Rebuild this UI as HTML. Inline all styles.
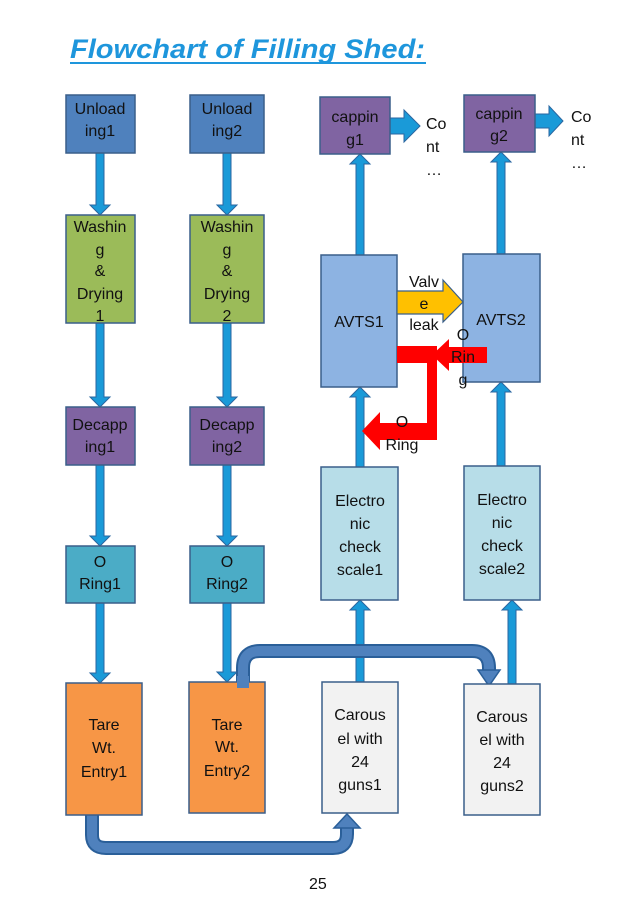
<!DOCTYPE html>
<html><head><meta charset="utf-8"><style>
html,body{margin:0;padding:0;background:#fff;}
svg{display:block;}
text{font-family:"Liberation Sans",sans-serif;font-size:16px;fill:#111;}
</style></head><body>
<svg width="638" height="900" viewBox="0 0 638 900" xmlns="http://www.w3.org/2000/svg">
<text x="70" y="58" style="font-size:27px;font-weight:bold;font-style:italic;fill:#1e96dc" textLength="355" lengthAdjust="spacingAndGlyphs">Flowchart of Filling Shed:</text>
<rect x="70" y="62" width="356" height="2" fill="#1e96dc"/>

<g fill="#1a9ad8" stroke="#2a66a0" stroke-width="1">
<path d="M96,153 H104 V205 H110 L100,215 L90,205 H96 Z"/>
<path d="M223,153 H231 V205 H237 L227,215 L217,205 H223 Z"/>
<path d="M96,323 H104 V397 H110 L100,407 L90,397 H96 Z"/>
<path d="M223,323 H231 V397 H237 L227,407 L217,397 H223 Z"/>
<path d="M96,465 H104 V536 H110 L100,546 L90,536 H96 Z"/>
<path d="M223,465 H231 V536 H237 L227,546 L217,536 H223 Z"/>
<path d="M96,603 H104 V673 H110 L100,683 L90,673 H96 Z"/>
<path d="M223,603 H231 V672 H237 L227,682 L217,672 H223 Z"/>
<path d="M356,255 H364 V164 H370 L360,154 L350,164 H356 Z"/>
<path d="M497,254 H505 V162 H511 L501,152 L491,162 H497 Z"/>
<path d="M356,467 H364 V397 H370 L360,387 L350,397 H356 Z"/>
<path d="M497,466 H505 V392 H511 L501,382 L491,392 H497 Z"/>
<path d="M356,682 H364 V610 H370 L360,600 L350,610 H356 Z"/>
<path d="M508,684 H516 V610 H522 L512,600 L502,610 H508 Z"/>
<path d="M390,118 H404 V110 L420,126 L404,142 V134 H390 Z"/>
<path d="M535,114 H549 V106 L563,121 L549,136 V128 H535 Z"/>
</g>

<g fill="none" stroke="#2a5f99" stroke-width="14" stroke-linejoin="round">
<path d="M243,686 V668 Q243,651 260,651 H472 Q489,651 489,668 V672"/>
<path d="M92,815 V835 Q92,848 106,848 H333 Q347,848 347,834 V826"/>
</g>
<g fill="none" stroke="#4f81bd" stroke-width="10" stroke-linejoin="round">
<path d="M243,686 V668 Q243,651 260,651 H472 Q489,651 489,668 V672"/>
<path d="M92,815 V835 Q92,848 106,848 H333 Q347,848 347,834 V826"/>
</g>
<path d="M478,670 H500 L489,686 Z" fill="#4f81bd" stroke="#2a5f99" stroke-width="1.5"/>
<path d="M334,828 H360 L347,814 Z" fill="#4f81bd" stroke="#2a5f99" stroke-width="1.5"/>

<g stroke="#3a5f8a" stroke-width="1.5">
<rect x="66" y="95" width="69" height="58" fill="#4f81bd"/>
<rect x="190" y="95" width="74" height="58" fill="#4f81bd"/>
<rect x="66" y="215" width="69" height="108" fill="#9bbb59"/>
<rect x="190" y="215" width="74" height="108" fill="#9bbb59"/>
<rect x="66" y="407" width="69" height="58" fill="#8064a2"/>
<rect x="190" y="407" width="74" height="58" fill="#8064a2"/>
<rect x="66" y="546" width="69" height="57" fill="#4bacc6"/>
<rect x="190" y="546" width="74" height="57" fill="#4bacc6"/>
<rect x="66" y="683" width="76" height="132" fill="#f79646"/>
<rect x="189" y="682" width="76" height="131" fill="#f79646"/>
<rect x="322" y="682" width="76" height="131" fill="#f2f2f2"/>
<rect x="464" y="684" width="76" height="131" fill="#f2f2f2"/>
<rect x="320" y="97" width="70" height="57" fill="#8064a2"/>
<rect x="464" y="95" width="71" height="57" fill="#8064a2"/>
<rect x="321" y="255" width="76" height="132" fill="#8db3e2"/>
<rect x="463" y="254" width="77" height="128" fill="#8db3e2"/>
<rect x="321" y="467" width="77" height="133" fill="#b7dde8"/>
<rect x="464" y="466" width="76" height="134" fill="#b7dde8"/>
</g>
<rect x="237" y="676" width="12" height="12" fill="#4f81bd"/>

<path d="M397,291 H443 V280 L463,302 L443,322 V314 H397 Z" fill="#ffc000" stroke="#3a5f8a" stroke-width="1.2"/>
<g fill="#ff0000">
<rect x="397" y="346" width="40" height="17"/>
<path d="M487,347 V363 H449 V371 L432,355 L449,339 V347 Z"/>
<rect x="427" y="346" width="10" height="94"/>
<path d="M437,423 V440 H380 V450 L362,431 L380,412 V423 Z"/>
</g>

<g text-anchor="middle">
<text x="100" y="114">Unload</text><text x="100" y="136">ing1</text>
<text x="227" y="114">Unload</text><text x="227" y="136">ing2</text>
<text x="100" y="232">Washin</text><text x="100" y="255">g</text><text x="100" y="276">&amp;</text><text x="100" y="299">Drying</text><text x="100" y="321">1</text>
<text x="227" y="232">Washin</text><text x="227" y="255">g</text><text x="227" y="276">&amp;</text><text x="227" y="299">Drying</text><text x="227" y="321">2</text>
<text x="100" y="430">Decapp</text><text x="100" y="452">ing1</text>
<text x="227" y="430">Decapp</text><text x="227" y="452">ing2</text>
<text x="100" y="567">O</text><text x="100" y="589">Ring1</text>
<text x="227" y="567">O</text><text x="227" y="589">Ring2</text>
<text x="104" y="730">Tare</text><text x="104" y="753">Wt.</text><text x="104" y="777">Entry1</text>
<text x="227" y="730">Tare</text><text x="227" y="752">Wt.</text><text x="227" y="776">Entry2</text>
<text x="360" y="720">Carous</text><text x="360" y="744">el with</text><text x="360" y="767">24</text><text x="360" y="790">guns1</text>
<text x="502" y="722">Carous</text><text x="502" y="745">el with</text><text x="502" y="768">24</text><text x="502" y="791">guns2</text>
<text x="355" y="122">cappin</text><text x="355" y="145">g1</text>
<text x="499" y="119">cappin</text><text x="499" y="141">g2</text>
<text x="359" y="327">AVTS1</text>
<text x="501" y="325">AVTS2</text>
<text x="360" y="506">Electro</text><text x="360" y="529">nic</text><text x="360" y="552">check</text><text x="360" y="575">scale1</text>
<text x="502" y="505">Electro</text><text x="502" y="528">nic</text><text x="502" y="551">check</text><text x="502" y="574">scale2</text>
<text x="424" y="287">Valv</text><text x="424" y="309">e</text><text x="424" y="330">leak</text>
<text x="463" y="340">O</text><text x="463" y="362">Rin</text><text x="463" y="385">g</text>
<text x="402" y="427">O</text><text x="402" y="450">Ring</text>
</g>
<text x="426" y="129">Co</text><text x="426" y="152">nt</text><text x="426" y="175">…</text>
<text x="571" y="122">Co</text><text x="571" y="145">nt</text><text x="571" y="168">…</text>
<text x="309" y="889">25</text>
</svg>
</body></html>
